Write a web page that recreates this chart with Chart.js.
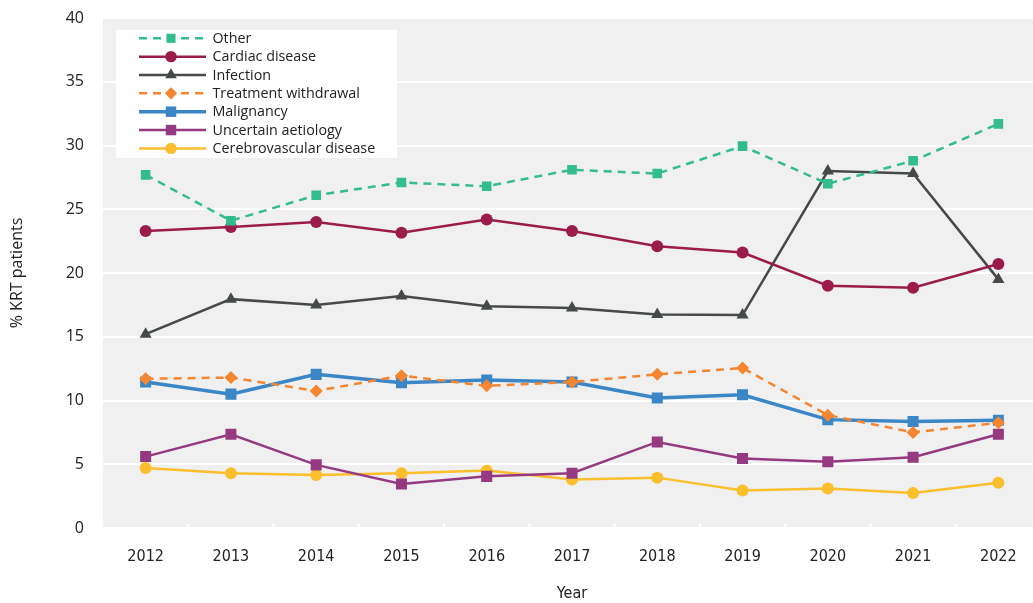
<!DOCTYPE html>
<html>
<head>
<meta charset="utf-8">
<script src="https://cdn.jsdelivr.net/npm/chart.js@4.4.0/dist/chart.umd.min.js"></script>
<style>
  html, body { margin: 0; padding: 0; background: #fff; overflow: hidden; }
  /* plot runs a few pixels past the right edge in the original */
  #wrap { width: 1041px; height: 603px; position: relative; }
</style>
</head>
<body>
<div id="wrap"><canvas id="chart"></canvas></div>
<script>
const years = ['2012', '2013', '2014', '2015', '2016', '2017', '2018', '2019', '2020', '2021', '2022'];

const other         = [27.7, 24.1, 26.1, 27.1, 26.8, 28.1, 27.8, 29.95, 27.0, 28.8, 31.7];
const cardiac       = [23.3, 23.6, 24.0, 23.15, 24.2, 23.3, 22.1, 21.6, 19.0, 18.85, 20.7];
const infection     = [15.2, 17.95, 17.5, 18.2, 17.4, 17.25, 16.75, 16.7, 28.0, 27.8, 19.5];
const withdrawal    = [11.7, 11.8, 10.75, 11.95, 11.15, 11.45, 12.05, 12.55, 8.85, 7.5, 8.25];
const malignancy    = [11.45, 10.5, 12.05, 11.4, 11.6, 11.45, 10.2, 10.45, 8.5, 8.35, 8.45];
const uncertain     = [5.6, 7.35, 4.95, 3.45, 4.05, 4.3, 6.75, 5.45, 5.2, 5.55, 7.35];
const cerebro       = [4.7, 4.3, 4.15, 4.3, 4.5, 3.8, 3.95, 2.95, 3.1, 2.75, 3.55];

const yTicks = [0, 5, 10, 15, 20, 25, 30, 35, 40];

const narrowFont = '"DejaVu Sans Condensed", "Liberation Sans Narrow", "Open Sans"';

function series(label, data, color, style, radius, dashed, width) {
    return {
        label: label,
        data: data,
        borderColor: color,
        backgroundColor: color,
        pointBackgroundColor: color,
        pointBorderColor: color,
        pointStyle: style,
        pointRadius: radius,
        pointHoverRadius: radius,
        pointBorderWidth: 0,
        borderWidth: width || 2.5,
        borderDash: dashed ? [8, 6] : [],
        tension: 0,
        fill: false
    };
}

const datasets = [
    series('Other', other, '#33bd8f', 'rect', 6.8, true),
    series('Cardiac disease', cardiac, '#9b1c4b', 'circle', 6),
    series('Infection', infection, '#45494a', 'triangle', 7),
    series('Treatment withdrawal', withdrawal, '#f5852f', 'rectRot', 6.5, true),
    series('Malignancy', malignancy, '#3a86c6', 'rect', 7.8, false, 3.5),
    series('Uncertain aetiology', uncertain, '#953a80', 'rect', 7.8),
    series('Cerebrovascular disease', cerebro, '#fbbe2c', 'circle', 6)
];

// grey plot background
const plotBg = {
    id: 'plotBg',
    beforeDraw: function (chart) {
        const a = chart.chartArea;
        const ctx = chart.ctx;
        ctx.save();
        ctx.fillStyle = '#f0f0f0';
        ctx.fillRect(a.left, a.top, a.right - a.left, a.bottom - a.top);
        ctx.restore();
    },
    afterDatasetsDraw: function (chart) {
        // little white notches at the bottom between the years
        const a = chart.chartArea;
        const x = chart.scales.x;
        const ctx = chart.ctx;
        ctx.save();
        ctx.strokeStyle = '#ffffff';
        ctx.lineWidth = 2;
        for (let i = 1; i < years.length; i++) {
            const px = (x.getPixelForTick(i - 1) + x.getPixelForTick(i)) / 2;
            ctx.beginPath();
            ctx.moveTo(px, a.bottom - 4);
            ctx.lineTo(px, a.bottom);
            ctx.stroke();
        }
        ctx.restore();
    }
};

// legend box inside the plot, top left
const boxLegend = {
    id: 'boxLegend',
    afterDraw: function (chart) {
        const ctx = chart.ctx;
        const left = 116, top = 30, w = 281, h = 128;
        const rowH = 18.35;
        ctx.save();
        ctx.fillStyle = '#ffffff';
        ctx.fillRect(left, top, w, h);
        chart.data.datasets.forEach(function (ds, i) {
            const y = 38.3 + i * rowH;
            ctx.strokeStyle = ds.borderColor;
            ctx.lineWidth = ds.borderWidth;
            ctx.setLineDash(ds.borderDash);
            ctx.beginPath();
            ctx.moveTo(139, y);
            ctx.lineTo(206, y);
            ctx.stroke();
            ctx.setLineDash([]);
            ctx.fillStyle = ds.borderColor;
            ctx.strokeStyle = ds.borderColor;
            Chart.helpers.drawPoint(ctx, {
                pointStyle: ds.pointStyle,
                radius: ds.pointRadius * 0.95,
                rotation: 0,
                borderWidth: 0
            }, 171, y);
            ctx.fillStyle = '#222222';
            ctx.font = '14.3px "Open Sans"';
            ctx.textAlign = 'left';
            ctx.textBaseline = 'middle';
            ctx.fillText(ds.label, 212.5, y + 0.5);
        });
        ctx.restore();
    }
};

new Chart(document.getElementById('chart'), {
    type: 'line',
    data: { labels: years, datasets: datasets },
    plugins: [plotBg, boxLegend],
    options: {
        responsive: true,
        maintainAspectRatio: false,
        animation: false,
        layout: { autoPadding: false, padding: { top: 18, right: 0, bottom: 0, left: 0 } },
        plugins: {
            legend: { display: false },
            tooltip: { enabled: false }
        },
        scales: {
            x: {
                offset: true,
                grid: { display: false, drawTicks: false },
                border: { display: false },
                ticks: {
                    color: '#222222',
                    font: { family: narrowFont, size: 16 },
                    padding: 19,
                    maxRotation: 0
                },
                title: {
                    display: true,
                    text: 'Year',
                    color: '#222222',
                    font: { family: narrowFont, size: 16 },
                    padding: { top: 10, bottom: 0 }
                },
                afterFit: function (scale) {
                    scale.height = 75;
                    scale.paddingLeft = 0;
                    scale.paddingRight = 0;
                }
            },
            y: {
                min: 0,
                max: 40,
                afterBuildTicks: function (scale) {
                    scale.ticks = yTicks.map(function (v) { return { value: v }; });
                },
                grid: { color: '#ffffff', lineWidth: 2, drawTicks: false },
                border: { display: false },
                ticks: {
                    color: '#222222',
                    font: { family: '"Open Sans"', size: 16 },
                    padding: 19
                },
                title: {
                    display: true,
                    text: '% KRT patients',
                    color: '#222222',
                    font: { family: '"Open Sans"', size: 16 },
                    padding: { top: 8, bottom: 0 }
                },
                afterFit: function (scale) {
                    scale.width = 103;
                    scale.paddingTop = 0;
                    scale.paddingBottom = 0;
                }
            }
        }
    }
});
</script>
</body>
</html>
